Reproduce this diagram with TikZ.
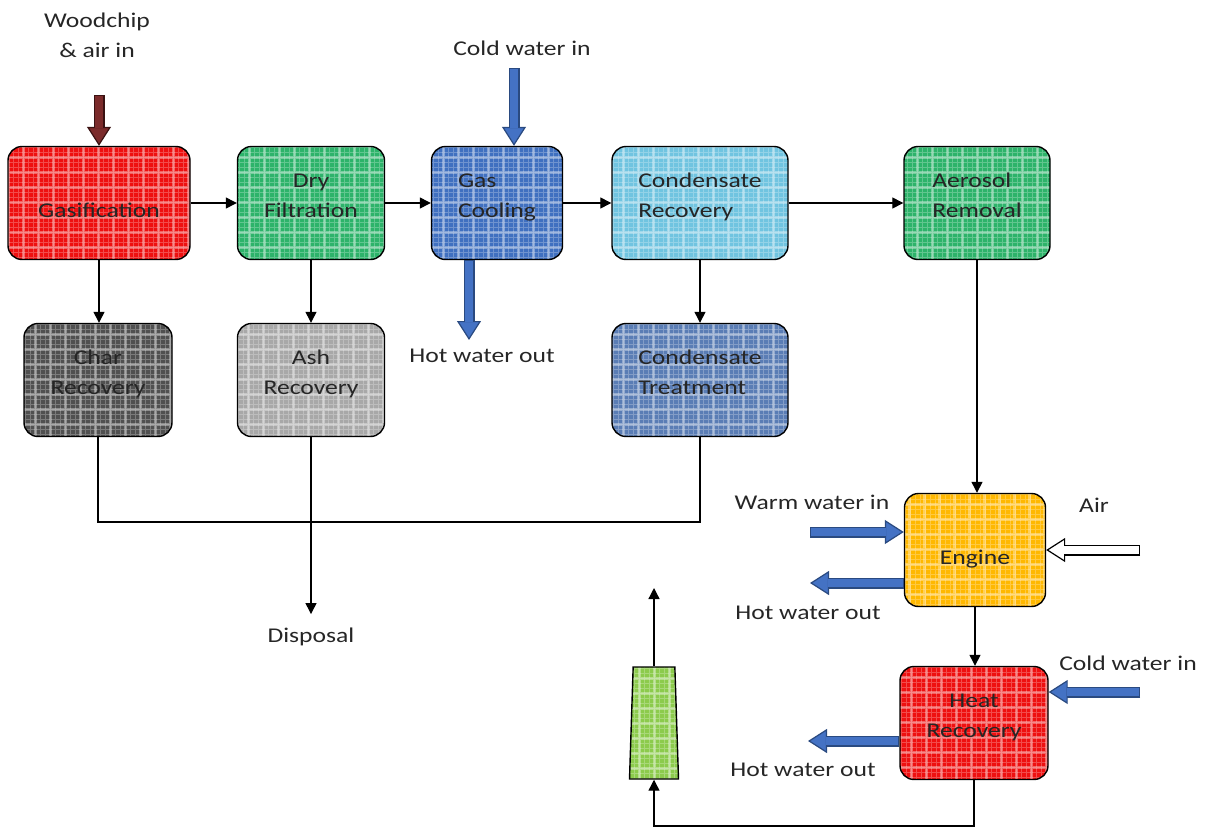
\documentclass[tikz,border=0pt]{standalone}
\usepackage{fontspec}
\setmainfont{Carlito}[FakeStretch=1.22]
\usepackage[dvipsnames]{xcolor}
\usetikzlibrary{arrows.meta,shapes.geometric}

\definecolor{gasred}{HTML}{EE1010}
\definecolor{filtgreen}{HTML}{2DB36A}
\definecolor{coolblue}{HTML}{4070C0}
\definecolor{condcyan}{HTML}{70C4E0}
\definecolor{chargray}{HTML}{505050}
\definecolor{ashgray}{HTML}{A8A8A8}
\definecolor{treatblue}{HTML}{5A7DB5}
\definecolor{engineyellow}{HTML}{FFB800}
\definecolor{stackgreen}{HTML}{8CCB4C}
\definecolor{pipeblue}{HTML}{4472C4}
\definecolor{pipeedge}{HTML}{2A4A80}
\definecolor{woodbrown}{HTML}{7B2B2B}
\definecolor{woodedge}{HTML}{3A1212}
\definecolor{labeltext}{HTML}{262626}

\begin{document}
\begin{tikzpicture}[x=1pt,y=-1pt,line width=1.3pt,font=\fontsize{21}{30}\selectfont,text=labeltext,
    unit/.style={draw=black,line width=1.4pt,rounded corners=14pt,fill=#1,minimum height=113pt,inner sep=2pt,
        text height=36pt,text depth=8pt,
        path picture={
            \draw[white,opacity=0.35,line width=3pt] (path picture bounding box.south west) grid[step=15pt] (path picture bounding box.north east);
            \draw[white,opacity=0.25,line width=0.8pt,xshift=7.5pt,yshift=7.5pt] ([shift={(-15pt,-15pt)}]path picture bounding box.south west) grid[step=5pt] (path picture bounding box.north east);
        }},
    flow/.style={draw=black,line width=1.3pt,-{Triangle[length=11pt,width=11pt]}},
    pipe/.style 2 args={draw=#2,line width=11pt,-{Triangle[length=19pt,width=24pt,line width=1.2pt,fill=#1]},
        postaction={draw=#1,line width=8.6pt,-,shorten >=17.8pt,shorten <=1.2pt}}]

            \useasboundingbox (0,0) rectangle (1206,827);

            \node[unit=gasred,minimum width=182pt,align=center] (gasif) at (99,203) {Gasification};
            \node[unit=filtgreen,minimum width=147pt,align=center] (dry) at (311,203) {Dry\\Filtration};
            \node[unit=coolblue,minimum width=131pt,align=left] (cool) at (497,203) {Gas\\Cooling};
            \node[unit=condcyan,minimum width=176pt,align=left] (condrec) at (700,203) {Condensate\\Recovery};
            \node[unit=filtgreen,minimum width=146pt,align=left] (aerosol) at (977,203) {Aerosol\\Removal};
            \node[unit=chargray,minimum width=148pt,align=center] (char) at (98,380) {Char\\Recovery};
            \node[unit=ashgray,minimum width=147pt,align=center] (ash) at (311,380) {Ash\\Recovery};
            \node[unit=treatblue,minimum width=176pt,align=left] (condtreat) at (700,380) {Condensate\\Treatment};
            \node[unit=engineyellow,minimum width=141pt,align=center] (engine) at (975,550) {Engine};
            \node[unit=gasred,minimum width=148pt,align=center] (heat) at (974,723) {Heat\\Recovery};
            \node[unit=stackgreen,rounded corners=0pt,text height=0pt,text depth=0pt,trapezium,trapezium stretches=true,trapezium left angle=85,trapezium right angle=85,minimum width=49pt,minimum height=112pt] (chimney) at (654,723) {};

            \node[align=center] (woodlbl) at (97,35) {Woodchip\\\& air in};
            \node (coldlbl) at (522,48) {Cold water in};
            \node (hotlbl) at (482,356) {Hot water out};
            \node (warmlbl) at (812,502) {Warm water in};
            \node (enghotlbl) at (808,613) {Hot water out};
            \node (airlbl) at (1094,505) {Air};
            \node (coldlbl2) at (1128,663) {Cold water in};
            \node (heathotlbl) at (803,770) {Hot water out};
            \node (disposal) at (311,637) {Disposal};

            \coordinate (woodin) at (99,95);
            \coordinate (coldin) at (514,68);
            \coordinate (hotout) at (469,340);
            \coordinate (warmin) at (810,532);
            \coordinate (enghot) at (810,583);
            \coordinate (airin) at (1140,550);
            \coordinate (coldin2) at (1140,692);
            \coordinate (heathot) at (808,741);
            \coordinate (merge) at (311,522);
            \coordinate (flue) at (654,826);
            \coordinate (stack) at (654,588);

            \draw[flow] (gasif) to (dry);
            \draw[flow] (dry) to (cool);
            \draw[flow] (cool) to (condrec);
            \draw[flow] (condrec) to (aerosol);
            \draw[flow] (gasif.south) to (gasif.south |- char.north);
            \draw[flow] (dry) to (ash);
            \draw[flow] (condrec) to (condtreat);
            \draw[flow] (aerosol.south) to (aerosol.south |- engine.north);
            \draw[flow] (engine.south) to (engine.south |- heat.north);
            \draw[-] (char.south) |- (merge) -| (condtreat.south);
            \draw[flow,shorten >=10pt] (ash.south) to (disposal.north);
            \draw[flow] (heat.south) |- (flue) -- (chimney.south);
            \draw[flow] (chimney.north) to (stack);

            \draw[pipe={woodbrown}{woodedge}] (woodin) to (woodin |- gasif.north);
            \draw[pipe={pipeblue}{pipeedge}] (coldin) to (coldin |- cool.north);
            \draw[pipe={pipeblue}{pipeedge}] (hotout |- cool.south) to (hotout);
            \draw[pipe={pipeblue}{pipeedge}] (warmin) to (warmin -| engine.west);
            \draw[pipe={pipeblue}{pipeedge}] (enghot -| engine.west) to (enghot);
            \draw[pipe={white}{black}] (airin) to (airin -| engine.east);
            \draw[pipe={pipeblue}{pipeedge}] (coldin2) to (coldin2 -| heat.east);
            \draw[pipe={pipeblue}{pipeedge}] (heathot -| heat.west) to (heathot);

            ;
        \end{tikzpicture}
\end{document}
